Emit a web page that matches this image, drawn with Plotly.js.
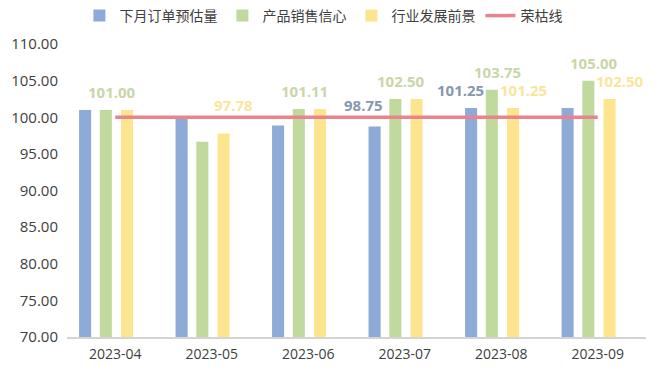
<!DOCTYPE html>
<html>
<head>
<meta charset="utf-8">
<script src="https://cdn.plot.ly/plotly-3.0.1.min.js"></script>
<style>html,body{margin:0;padding:0;background:#fff;}#chart{width:660px;height:373px;}</style>
</head>
<body>
<div id="chart"></div>
<script>
const months = ['2023-04', '2023-05', '2023-06', '2023-07', '2023-08', '2023-09'];
const orderEstimate = [101.00, 100.00, 98.89, 98.75, 101.25, 101.25];
const salesConfidence = [101.00, 96.67, 101.11, 102.50, 103.75, 105.00];
const industryOutlook = [101.00, 97.78, 101.11, 102.50, 101.25, 102.50];
const boomLine = [100, 100, 100, 100, 100, 100];
const showOrderLabel = [false, false, false, true, true, false];
const showSalesLabel = [true, false, true, true, true, true];
const showOutlookLabel = [false, true, false, false, true, true];
const yTicks = [70, 75, 80, 85, 90, 95, 100, 105, 110];

const FONT = '"Open Sans", "Noto Sans CJK SC", "Noto Sans", sans-serif';
const CAT_PX = 96.5;      // pixels per category (plot width / 6)
const BAR_W = 0.125;

const series = [
  {name: '下月订单预估量', vals: orderEstimate, show: showOrderLabel, color: '#8eaad6', label: '#8797b0', offset: -0.375, lx: -11},
  {name: '产品销售信心', vals: salesConfidence, show: showSalesLabel, color: '#c0da9e', label: '#c9d6a8', offset: -0.16, lx: 6},
  {name: '行业发展前景', vals: industryOutlook, show: showOutlookLabel, color: '#fde48e', label: '#f9e59c', offset: 0.06, lx: 10}
];

const data = series.map(s => ({
  type: 'bar', name: s.name, x: months, y: s.vals,
  width: BAR_W, offset: s.offset,
  marker: {color: s.color, line: {width: 0}},
  hoverinfo: 'x+y'
}));
data.push({
  type: 'scatter', mode: 'lines', name: '荣枯线', x: months, y: boomLine,
  line: {color: '#e9848f', width: 3.5}, cliponaxis: false
});

// labels sit above the bar, or above the 荣枯线 when the bar is below it
const annotations = [];
series.forEach(s => {
  s.vals.forEach((v, i) => {
    if (!s.show[i]) return;
    const below = v < boomLine[i];
    annotations.push({
      x: months[i], y: below ? boomLine[i] : v, xref: 'x', yref: 'y',
      text: v.toFixed(2), showarrow: false,
      xanchor: 'center', yanchor: 'middle',
      xshift: (s.offset + BAR_W / 2) * CAT_PX + s.lx, yshift: below ? 12 : 18,
      font: {family: FONT, size: 15, color: s.label, weight: 'bold'}
    });
  });
});

const layout = {
  width: 660, height: 373,
  margin: {l: 67, r: 14, t: 44, b: 36},
  paper_bgcolor: '#ffffff', plot_bgcolor: '#ffffff',
  font: {family: FONT, size: 14, color: '#404040'},
  barmode: 'overlay',
  showlegend: true,
  legend: {
    orientation: 'h', x: 0.49, xanchor: 'center', xref: 'container',
    y: 1.0, yanchor: 'top', yref: 'container',
    font: {family: FONT, size: 14, color: '#404040'},
    itemwidth: 30, traceorder: 'normal'
  },
  annotations: annotations,
  xaxis: {
    type: 'category', range: [-0.5, 5.5],
    showgrid: false, zeroline: false,
    showline: true, linecolor: '#d4d4d4', linewidth: 1.5,
    ticks: '', ticklabelstandoff: 4,
    tickfont: {family: FONT, size: 14, color: '#404040'}
  },
  yaxis: {
    range: [70, 110], tickvals: yTicks, ticktext: yTicks.map(v => v.toFixed(2)),
    showgrid: false, zeroline: false, showline: false, ticks: '',
    ticklabelstandoff: 8,
    tickfont: {family: FONT, size: 15, color: '#404040'}
  }
};

Plotly.newPlot('chart', data, layout, {displayModeBar: false, staticPlot: true});
</script>
</body>
</html>
